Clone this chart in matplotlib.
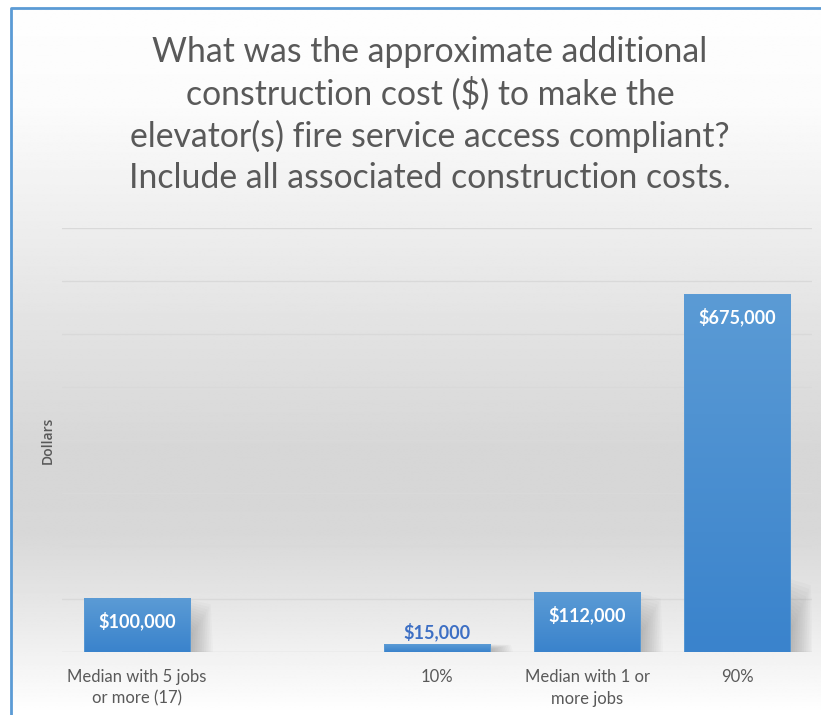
import numpy as np
import matplotlib
matplotlib.use("Agg")
import matplotlib.pyplot as plt
from matplotlib.patches import Rectangle, Polygon
from matplotlib.colors import LinearSegmentedColormap

# ---- data ----
categories = ["Median with 5 jobs\nor more (17)", "", "10%", "Median with 1 or\nmore jobs", "90%"]
values = [100000, None, 15000, 112000, 675000]
value_labels = ["$100,000", "", "$15,000", "$112,000", "$675,000"]
title = ("What was the approximate additional\n"
         "construction cost ($) to make the\n"
         "elevator(s) fire service access compliant?\n"
         "Include all associated construction costs.")
y_label = "Dollars"
y_max = 800000
grid_step = 100000

FONT = "Lato"
TEXT = "#595959"

W, H = 821, 715
fig = plt.figure(figsize=(W / 100, H / 100), dpi=100, facecolor="white")

# ---- vertical background gradient inside the frame ----
bx = 11 / W
by = 1 - 8 / H
bg = fig.add_axes([0, 0, 1, 1], zorder=0)
bg.set_xlim(0, 1)
bg.set_ylim(0, 1)
bg.axis("off")
ys = np.linspace(0, 1, 500)  # 0 = top of figure
stops_px = [0, 100, 200, 330, 450, 530, 600, 680, 715]
stops_v = [0.995, 0.985, 0.94, 0.885, 0.84, 0.845, 0.90, 0.97, 1.0]
col = np.interp(ys * H, stops_px, stops_v)
img = np.repeat(col[:, None], 2, axis=1)
bg.imshow(img, cmap="gray", vmin=0, vmax=1, aspect="auto",
          extent=[bx, 1, 0, by], origin="upper", interpolation="bilinear")
bg.set_xlim(0, 1)
bg.set_ylim(0, 1)
bg.plot([bx, bx, 1.0], [0.0, by, by], color="#5b9bd5", lw=2.0,
        solid_capstyle="butt", clip_on=False)

# ---- main axes ----
ax = fig.add_axes([62 / W, 1 - 652 / H, 750 / W, (652 - 228) / H], zorder=2)
ax.patch.set_alpha(0)
n = len(categories)
for s in ax.spines.values():
    s.set_visible(False)
ax.set_yticks([])
ax.set_xticks(range(n))
ax.set_xticklabels(categories, fontsize=12, color=TEXT, family=FONT,
                   linespacing=1.45)
ax.tick_params(axis="x", length=0, pad=12)

for g in np.arange(grid_step, y_max + 1, grid_step):
    ax.axhline(g, color="#d9d9d9", lw=1.0, zorder=1)
ax.axhline(0, color="#d9d9d9", lw=1.0, zorder=1)

bar_w = 0.71
bar_cmap = LinearSegmentedColormap.from_list("bar", ["#3a83cc", "#5b9bd5"])
grad = np.linspace(0, 1, 256)[:, None]

for i, v in enumerate(values):
    if v is None:
        continue
    x0 = i - bar_w / 2
    x1 = i + bar_w / 2
    # soft perspective shadow to the right of the bar
    sh_h = min(v, 140000)
    for k in range(12):
        off = 0.02 + k * 0.012
        poly = Polygon([(x1 - 0.02, 0), (x1 + off, 0),
                        (x1 + off * 0.9, sh_h * (0.35 + 0.05 * k)),
                        (x1 - 0.02, sh_h * (0.5 + 0.045 * k))],
                       closed=True, facecolor="#404040", edgecolor="none",
                       alpha=0.028, zorder=2)
        ax.add_patch(poly)
    # gradient-filled bar
    ax.imshow(grad, cmap=bar_cmap, aspect="auto", origin="lower",
              extent=[x0, x1, 0, v], zorder=3, interpolation="bilinear")
    ax.add_patch(Rectangle((x0, 0), bar_w, v, facecolor="none",
                           edgecolor="#5b9bd5", lw=0.6, zorder=4))
    # value labels
    if v > 60000:
        ax.annotate(value_labels[i], (i, v), xytext=(0, -16),
                    textcoords="offset points", ha="center", va="center",
                    fontsize=13, fontweight="bold", color="white",
                    family=FONT, zorder=5)
    else:
        ax.annotate(value_labels[i], (i, v), xytext=(0, 9),
                    textcoords="offset points", ha="center", va="center",
                    fontsize=13, fontweight="bold", color="#3d6fc4",
                    family=FONT, zorder=5)

ax.set_xlim(-0.5, n - 0.5)
ax.set_ylim(0, y_max)

# ---- title and axis label ----
fig.text(430 / W, 1 - 115 / H, title, ha="center", va="center",
         fontsize=24.3, color=TEXT, family=FONT, linespacing=1.33)
fig.text(48 / W, 1 - 440 / H, y_label, rotation=90, ha="center", va="center",
         fontsize=10, fontweight="semibold", color=TEXT, family="Open Sans")

fig.savefig("out.png", dpi=100, facecolor="white")
